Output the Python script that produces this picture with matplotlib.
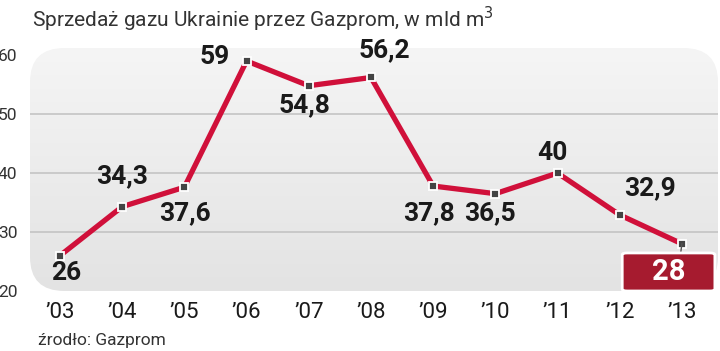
"""Sprzedaż gazu Ukrainie przez Gazprom – wykres liniowy."""

import matplotlib

matplotlib.use("Agg")

import matplotlib.pyplot as plt
import numpy as np
from matplotlib.patches import FancyBboxPatch

years = ["’03", "’04", "’05", "’06", "’07", "’08", "’09", "’10", "’11", "’12", "’13"]
values = [26, 34.3, 37.6, 59, 54.8, 56.2, 37.8, 36.5, 40, 32.9, 28]
y_ticks = [20, 30, 40, 50, 60]
grid_values = [30, 40, 50]
# przesunięcia etykiet (piksele) względem punktów
label_offsets = [(6, -17), (0, 30), (1, -26), (-32, 4), (-4, -19), (13, 27),
                 (-4, -27), (-5, -20), (-5, 20), (30, 27)]

LINE_RED = "#d0103a"
BOX_RED = "#a61b2f"
NUM_FONT = ["Liberation Sans Narrow", "Roboto", "DejaVu Sans"]

fig = plt.figure(figsize=(7.2, 3.51), dpi=100)
ax = fig.add_axes([30 / 720, (351 - 291) / 351, 688 / 720, 243 / 351])
x = np.arange(len(years))
ax.set_xlim(-0.482, 10.58)
ax.set_ylim(20, 61.2)

# tło z gradientem i zaokrąglonymi rogami
panel = FancyBboxPatch((0, 0), 1, 1, boxstyle="round,pad=0,rounding_size=0.05",
                       transform=ax.transAxes, facecolor="none", edgecolor="none",
                       mutation_aspect=2.8)
ax.add_patch(panel)
grad = np.linspace(0, 1, 256).reshape(-1, 1)
img = ax.imshow(grad, extent=[0, 1, 0, 1], transform=ax.transAxes, aspect="auto",
                cmap=matplotlib.colors.LinearSegmentedColormap.from_list(
                    "bg", ["#f5f5f5", "#e3e3e3"]), zorder=0)
img.set_clip_path(panel)

for g in grid_values:
    ax.axhline(g, color="#c4c4c4", lw=1.2, zorder=1)

ax.plot(x, values, color=LINE_RED, lw=3.8, zorder=3, solid_joinstyle="miter")
ax.plot(x, values, ls="none", marker="s", ms=5.5, mfc="#444444", mec="white",
        mew=1.3, zorder=4)

for xi, v, off in zip(x[:-1], values[:-1], label_offsets):
    txt = f"{v:g}".replace(".", ",")
    ax.annotate(txt, (xi, v), xytext=off, textcoords="offset pixels",
                ha="center", va="center", fontsize=19, fontweight="bold",
                family=NUM_FONT, color="#1a1a1a", zorder=5)

# ostatnia wartość w czerwonym polu
last_x, last_v = x[-1], values[-1]
box = FancyBboxPatch((9.04, 20.0), 1.49, 6.45, boxstyle="round,pad=0,rounding_size=0.08",
                     mutation_aspect=4, facecolor=BOX_RED, edgecolor="white", lw=2,
                     clip_on=False, zorder=6)
ax.add_patch(box)
ax.plot([last_x, last_x - 0.02], [last_v, 26.45], color="#555555", lw=1, zorder=5)
ax.text(9.785, 23.2, f"{last_v:g}", ha="center", va="center", fontsize=21,
        fontweight="bold", family=NUM_FONT, color="white", zorder=7)

ax.set_xticks(x, years)
ax.set_yticks(y_ticks)
ax.tick_params(axis="x", length=0, pad=8, labelsize=16, labelcolor="#1a1a1a")
ax.tick_params(axis="y", length=0, pad=9, labelsize=12.5, labelcolor="#333333")
for s in ax.spines.values():
    s.set_visible(False)
for lbl in ax.get_xticklabels() + ax.get_yticklabels():
    lbl.set_fontfamily("Roboto")

fig.text(32 / 720, 1 - 19 / 351, "Sprzedaż gazu Ukrainie przez Gazprom, w mld m$^3$",
         fontsize=15, family="Roboto", color="#333333", va="center", ha="left")
fig.text(38 / 720, 1 - 341 / 351, "źrodło: Gazprom", fontsize=12.5, family="Roboto",
         color="#333333", va="center", ha="left")

fig.savefig("out.png", dpi=100)
